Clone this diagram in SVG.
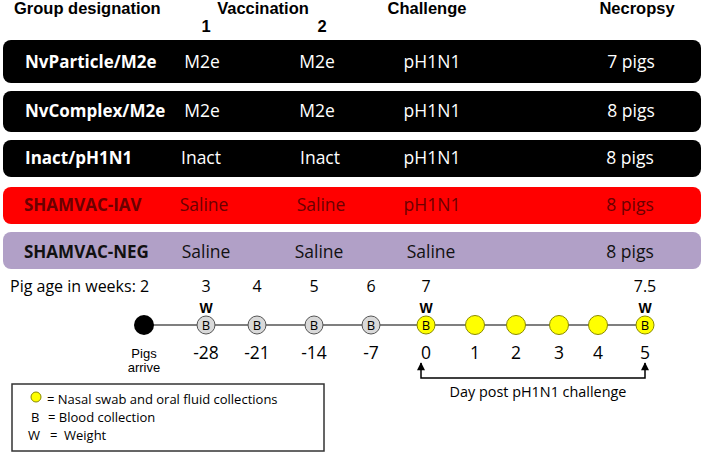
<svg xmlns="http://www.w3.org/2000/svg" width="704" height="454" viewBox="0 0 704 454">
<style>
.hdr{font-family:"Liberation Sans",Arial,sans-serif;font-weight:bold;font-size:16.5px;fill:#000}
.lbl{font-family:"Open Sans","Noto Sans",sans-serif;font-weight:bold;font-size:17px}
.cell{font-family:"Open Sans","Noto Sans",sans-serif;font-size:17.5px;text-anchor:middle}
.w{fill:#fff}
.dr{fill:#6b0000}
.dk{fill:#111}
.t{font-family:"Open Sans","Noto Sans",sans-serif;font-size:16px;fill:#000}
.tm{font-family:"Open Sans","Noto Sans",sans-serif;font-size:17.5px;fill:#000;text-anchor:middle}
.wb{font-family:"Liberation Sans",Arial,sans-serif;font-weight:bold;font-size:14px;text-anchor:middle;fill:#000}
.bl{font-family:"Open Sans","Noto Sans",sans-serif;font-size:13px;text-anchor:middle;fill:#000}
.ar{font-family:"Liberation Sans",Arial,sans-serif;font-size:13px;text-anchor:middle;fill:#000}
.dp{font-family:"Open Sans","Noto Sans",sans-serif;font-size:14.4px;fill:#000;text-anchor:middle}
.lg{font-family:"Open Sans","Noto Sans",sans-serif;font-size:13px;fill:#000}
.gc{fill:#d9d9d9;stroke:#555;stroke-width:1}
.yc{fill:#ffff00;stroke:#8a8a00;stroke-width:1}
</style>
<defs>
<marker id="ah" viewBox="0 0 10 10" refX="9" refY="5" markerWidth="10" markerHeight="8" orient="auto-start-reverse" markerUnits="userSpaceOnUse">
<path d="M0,0 L10,5 L0,10 Z" fill="#000"/>
</marker>
</defs>
<rect width="704" height="454" fill="#fff"/>
<g id="header">
<text class="hdr" x="14" y="14">Group designation</text>
<text class="hdr" x="263" y="14" text-anchor="middle">Vaccination</text>
<text class="hdr" x="206" y="32" text-anchor="middle">1</text>
<text class="hdr" x="322" y="32" text-anchor="middle">2</text>
<text class="hdr" x="427" y="14" text-anchor="middle">Challenge</text>
<text class="hdr" x="637" y="14" text-anchor="middle">Necropsy</text>
</g>
<g id="row-nvparticle">
<rect x="3" y="40" width="698" height="43" rx="8" fill="#000"/>
<text class="lbl w" x="25" y="68">NvParticle/M2e</text>
<text class="cell w" x="202" y="68">M2e</text>
<text class="cell w" x="317" y="68">M2e</text>
<text class="cell w" x="432" y="68">pH1N1</text>
<text class="cell w" x="631" y="68">7 pigs</text>
</g>
<g id="row-nvcomplex">
<rect x="3" y="91" width="698" height="41" rx="8" fill="#000"/>
<text class="lbl w" x="25" y="117">NvComplex/M2e</text>
<text class="cell w" x="202" y="117">M2e</text>
<text class="cell w" x="317" y="117">M2e</text>
<text class="cell w" x="432" y="117">pH1N1</text>
<text class="cell w" x="631" y="117">8 pigs</text>
</g>
<g id="row-inact">
<rect x="3" y="140" width="698" height="37" rx="8" fill="#000"/>
<text class="lbl w" x="25" y="164">Inact/pH1N1</text>
<text class="cell w" x="201" y="164">Inact</text>
<text class="cell w" x="320" y="164">Inact</text>
<text class="cell w" x="432" y="164">pH1N1</text>
<text class="cell w" x="630" y="164">8 pigs</text>
</g>
<g id="row-shamvac-iav">
<rect x="3" y="187" width="698" height="37" rx="8" fill="#ff0000"/>
<text class="lbl dr" x="24" y="211">SHAMVAC-IAV</text>
<text class="cell dr" x="204" y="211">Saline</text>
<text class="cell dr" x="321" y="211">Saline</text>
<text class="cell dr" x="432" y="211">pH1N1</text>
<text class="cell dr" x="630" y="211">8 pigs</text>
</g>
<g id="row-shamvac-neg">
<rect x="3" y="232" width="698" height="37" rx="8" fill="#b1a0c7"/>
<text class="lbl dk" x="24" y="258">SHAMVAC-NEG</text>
<text class="cell dk" x="206" y="258">Saline</text>
<text class="cell dk" x="319" y="258">Saline</text>
<text class="cell dk" x="431" y="258">Saline</text>
<text class="cell dk" x="630" y="258">8 pigs</text>
</g>
<g id="age-labels">
<text class="t" x="10" y="292">Pig age in weeks: 2</text>
<text class="t" x="206" y="292" text-anchor="middle">3</text>
<text class="t" x="257" y="292" text-anchor="middle">4</text>
<text class="t" x="314" y="292" text-anchor="middle">5</text>
<text class="t" x="371" y="292" text-anchor="middle">6</text>
<text class="t" x="426" y="292" text-anchor="middle">7</text>
<text class="t" x="645" y="292" text-anchor="middle">7.5</text>
<text class="wb" x="206" y="313">W</text>
<text class="wb" x="426" y="313">W</text>
<text class="wb" x="645" y="313">W</text>
</g>
<g id="connectors">
<line x1="144" y1="325" x2="645" y2="325" stroke="#555" stroke-width="1.5"/>
<path d="M421,363 V378 H645 V363" fill="none" stroke="#000" stroke-width="1.5" marker-start="url(#ah)" marker-end="url(#ah)"/>
</g>
<g id="timeline-points">
<circle cx="144" cy="325" r="10" fill="#000"/>
<g id="d-28"><circle class="gc" cx="206" cy="325" r="9"/><text class="bl" x="206" y="330">B</text></g>
<g id="d-21"><circle class="gc" cx="257" cy="325" r="9"/><text class="bl" x="257" y="330">B</text></g>
<g id="d-14"><circle class="gc" cx="314" cy="325" r="9"/><text class="bl" x="314" y="330">B</text></g>
<g id="d-7"><circle class="gc" cx="371" cy="325" r="9"/><text class="bl" x="371" y="330">B</text></g>
<g id="d0"><circle class="yc" cx="426" cy="325" r="9"/><text class="bl" x="426" y="330">B</text></g>
<g id="d1"><circle class="yc" cx="475" cy="325" r="9.5"/></g>
<g id="d2"><circle class="yc" cx="516" cy="325" r="9.5"/></g>
<g id="d3"><circle class="yc" cx="559" cy="325" r="9.5"/></g>
<g id="d4"><circle class="yc" cx="598" cy="325" r="9.5"/></g>
<g id="d5"><circle class="yc" cx="645" cy="325" r="9"/><text class="bl" x="645" y="330">B</text></g>
</g>
<g id="day-labels">
<text class="ar" x="144" y="358">Pigs</text>
<text class="ar" x="144" y="372">arrive</text>
<text class="tm" x="206" y="359">-28</text>
<text class="tm" x="257" y="359">-21</text>
<text class="tm" x="314" y="359">-14</text>
<text class="tm" x="371" y="359">-7</text>
<text class="tm" x="426" y="359">0</text>
<text class="tm" x="475" y="359">1</text>
<text class="tm" x="516" y="359">2</text>
<text class="tm" x="559" y="359">3</text>
<text class="tm" x="598" y="359">4</text>
<text class="tm" x="645" y="359">5</text>
<text class="dp" x="538" y="397">Day post pH1N1 challenge</text>
</g>
<g id="legend">
<rect x="12" y="384" width="312" height="67" fill="#fff" stroke="#333" stroke-width="1.5"/>
<circle class="yc" cx="36" cy="397" r="5"/>
<text class="lg" x="47" y="404">= Nasal swab and oral fluid collections</text>
<text class="lg" x="31" y="422">B</text>
<text class="lg" x="48" y="422">= Blood collection</text>
<text class="lg" x="28" y="440">W</text>
<text class="lg" x="50" y="440">=</text>
<text class="lg" x="64" y="440">Weight</text>
</g>
</svg>
